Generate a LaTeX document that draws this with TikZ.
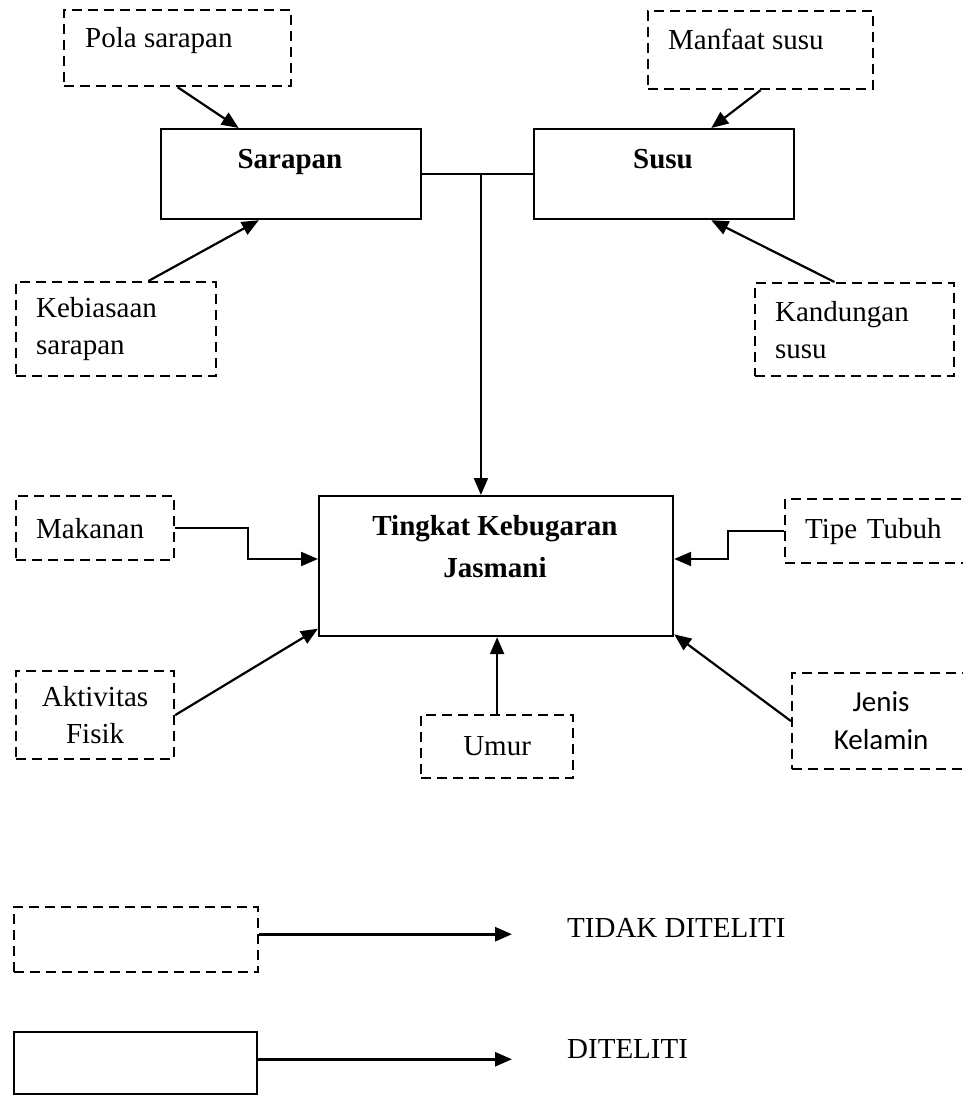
\documentclass[tikz,border=0pt]{standalone}
\usepackage{fontspec}
\setmainfont{Liberation Serif}
\newfontfamily\carlito{Carlito}
\usetikzlibrary{arrows.meta,calc}

\begin{document}
\begin{tikzpicture}[x=1pt,y=-1pt,
        font=\fontsize{29}{37}\selectfont,
        box/.style={draw,line width=2.2pt,anchor=north west,inner sep=0pt},
        dbox/.style={box,dash pattern=on 10pt off 6pt},
        lbox/.style={align=left,text width=#1},
        arr/.style={-{Triangle[length=17pt,width=14pt]},line width=2.2pt},
        line/.style={line width=2.2pt},
        txt/.style={anchor=base west,inner sep=0pt}]
    \clip (0,0) rectangle (963,1095);

    % top row
    \node[dbox,minimum width=227,minimum height=76] (pola) at (63,9) {};
    \node[txt] (pola-t) at (85,47) {Pola sarapan};
    \node[dbox,minimum width=225,minimum height=78] (manfaat) at (647,10) {};
    \node[txt] (manfaat-t) at (668,49) {Manfaat susu};

    % diteliti
    \node[box,minimum width=260,minimum height=90] (sarapan) at (160,128) {};
    \node[txt,anchor=base,font=\fontsize{29}{37}\selectfont\bfseries] (sarapan-t) at (290,168) {Sarapan};
    \node[box,minimum width=260,minimum height=90] (susu) at (533,128) {};
    \node[txt,anchor=base,font=\fontsize{29}{37}\selectfont\bfseries] (susu-t) at (663,168) {Susu};

    \node[dbox,minimum width=200,minimum height=94,lbox=160] (kebiasaan) at (15,281) {Kebiasaan\\sarapan};
    \node[dbox,minimum width=199,minimum height=93,lbox=159] (kandungan) at (754,282) {Kandungan\\susu};

    % tingkat kebugaran
    \node[box,minimum width=354,minimum height=140] (tingkat) at (318,495) {};
    \node[align=center,inner sep=0pt,font=\fontsize{29}{42}\selectfont\bfseries] (tingkat-t) at (495,547) {Tingkat Kebugaran\\Jasmani};

    \node[dbox,minimum width=158,minimum height=64,lbox=118] (makanan) at (15,495) {Makanan};
    \node[dbox,minimum width=200,minimum height=64,lbox=160] (tipe) at (784,498) {Tipe Tubuh};
    \node[dbox,minimum width=158,minimum height=88,align=center] (aktivitas) at (15,670) {Aktivitas\\Fisik};
    \node[dbox,minimum width=152,minimum height=63] (umur) at (420,714) {Umur};
    \node[dbox,minimum width=178,minimum height=96,align=center,font=\carlito\fontsize{29}{38}\selectfont] (jenis) at (791,672) {Jenis\\Kelamin};

    % penghubung
    \draw[arr] (pola.south) -- ($(sarapan.north west)!0.3!(sarapan.north east)$);
    \draw[arr] (manfaat.south) -- ($(susu.north west)!0.68!(susu.north east)$);
    \draw[arr] ($(kebiasaan.north west)!0.66!(kebiasaan.north east)$) -- ($(sarapan.south west)!0.377!(sarapan.south east)$);
    \draw[arr] ($(kandungan.north west)!0.4!(kandungan.north east)$) -- ($(susu.south west)!0.68!(susu.south east)$);

    \coordinate (mid) at ($(sarapan.east)!0.53!(susu.west)$);
    \draw[line] (sarapan.east) -- (susu.west);
    \draw[arr] (mid) -- (mid |- tingkat.north);

    \coordinate (mk-in) at ($(tingkat.north west)!0.45!(tingkat.south west)$);
    \coordinate (tp-in) at ($(tingkat.north east)!0.45!(tingkat.south east)$);
    \draw[arr] (makanan.east) -- ++(73,0) |- (mk-in);
    \draw[arr] (tipe.west) -- ++(-56,0) |- (tp-in);
    \draw[arr] (aktivitas.east) -- ($(tingkat.north west)!0.94!(tingkat.south west)$);
    \draw[arr] (jenis.west) -- ($(tingkat.north east)!0.98!(tingkat.south east)$);
    \draw[arr] (umur.north) -- (umur.north |- tingkat.south);

    % keterangan
    \node[dbox,minimum width=244,minimum height=65] (ket-tidak) at (13,906) {};
    \node[box,minimum width=243,minimum height=62] (ket-ya) at (13,1031) {};
    \node[txt] (tidak-t) at (567,937) {TIDAK DITELITI};
    \node[txt] (ya-t) at (567,1058) {DITELITI};
    \coordinate (kt) at ($(ket-tidak.north east)!0.42!(ket-tidak.south east)$);
    \coordinate (ky) at ($(ket-ya.north east)!0.44!(ket-ya.south east)$);
    \draw[arr,line width=2.8pt,shorten >=55pt] (kt) -- (kt -| tidak-t.west);
    \draw[arr,line width=2.8pt,shorten >=55pt] (ky) -- (ky -| ya-t.west);
\end{tikzpicture}
\end{document}
